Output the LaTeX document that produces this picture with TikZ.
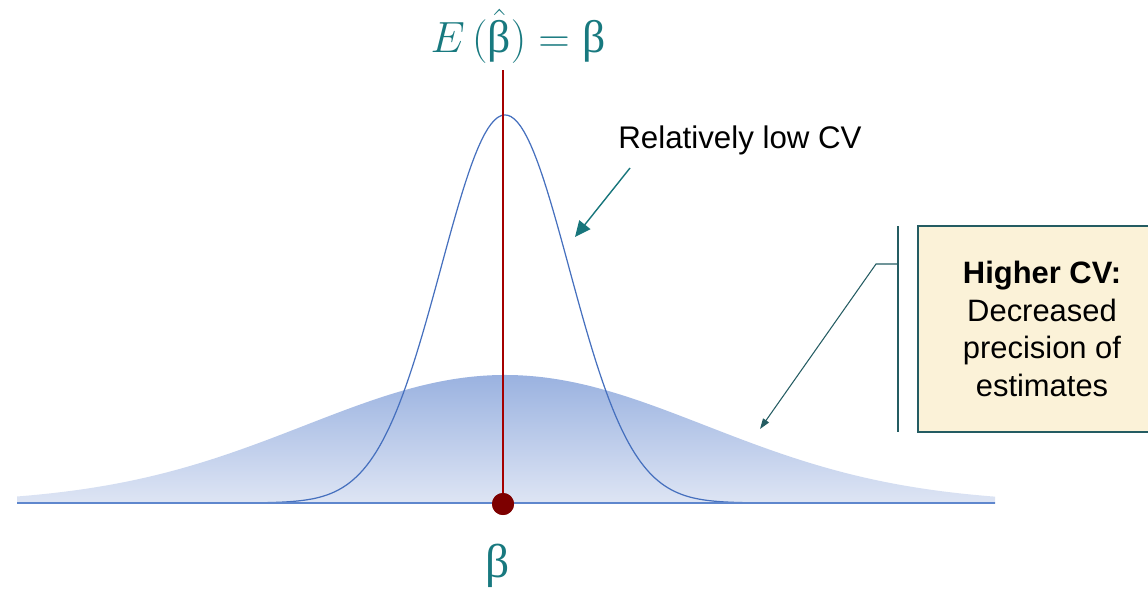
\documentclass[tikz,border=0pt]{standalone}
\usepackage{amsmath}
\usepackage{fontspec}
\newfontfamily\arialfont{Liberation Sans}
\newfontfamily\greekfont{Liberation Serif}
\usepackage{tikz}
\usetikzlibrary{arrows.meta, positioning, calc}
\definecolor{tealtext}{RGB}{24,121,127}
\definecolor{tealarrow}{RGB}{24,118,124}
\definecolor{darkteal}{RGB}{36,92,98}
\definecolor{curveblue}{RGB}{70,112,190}
\definecolor{baseblue}{RGB}{95,135,205}
\definecolor{shadetop}{RGB}{154,178,224}
\definecolor{shadebot}{RGB}{222,229,244}
\definecolor{meanred}{RGB}{165,0,0}
\definecolor{dotred}{RGB}{125,0,0}
\definecolor{boxcream}{RGB}{251,242,216}
\tikzset{
  labeltext/.style={font=\arialfont\fontsize{17.8}{21.5}\selectfont,text=black,inner sep=0pt},
  mathlabel/.style={text=tealtext,inner sep=0pt},
  notebox/.style={rectangle,draw=darkteal,fill=boxcream,line width=0.7pt,align=center,
    minimum width=4.96cm,minimum height=4.12cm,font=\arialfont\fontsize{17.6}{21.5}\selectfont},
  pointarr/.style={-{Triangle[length=9pt,width=8pt]},line width=0.8pt,color=tealarrow},
  thinarr/.style={-{Triangle[length=6pt,width=4pt]},line width=0.6pt,color=darkteal}
}
\newcommand{\ubeta}{\text{\greekfont β}}

\begin{document}
\begin{tikzpicture}[x=0.02cm,y=-0.02cm]
  \useasboundingbox (0,0) rectangle (1148,592);

  %% wide (high CV) sampling distribution
  \shade[top color=shadetop,bottom color=shadebot]
    (17,503) -- plot[domain=17:995,samples=200] (\x,{503-128*exp(-0.5*((\x-505)/200)^2)})
    -- (995,503) -- cycle;

  %% narrow (low CV) sampling distribution
  \draw[curveblue,line width=0.7pt]
    plot[domain=17:995,samples=300] (\x,{503-388*exp(-0.5*((\x-505)/64)^2)});

  %% axis
  \coordinate (axl) at (17,503);
  \coordinate (axr) at (995,503);
  \draw[baseblue,line width=1.2pt] (axl) -- (axr);

  %% true value
  \node[circle,fill=dotred,minimum size=0.44cm,inner sep=0pt] (truedot) at (503,504) {};
  \coordinate (meantop) at (503,70);
  \draw[meanred,line width=0.7pt] (meantop) -- (truedot.center);
  \fill[dotred] (truedot) circle (11);

  \node[mathlabel,font=\fontsize{26}{30}\selectfont] (expeq) at (518,36) {$E\,(\hat{\ubeta}) = \ubeta$};
  \node[mathlabel,font=\fontsize{27}{30}\selectfont] (betalab) at (498,566) {$\ubeta$};

  %% low CV label
  \node[labeltext] (lowcv) at (740,140) {Relatively low CV};
  \coordinate (lowtail) at (630,168);
  \coordinate (lowtip) at (575,237);
  \draw[pointarr] (lowtail) -- (lowtip);

  %% higher CV note
  \node[notebox] (highbox) at (1042,329)
    {\textbf{Higher CV:}\\Decreased\\precision of\\estimates};
  \coordinate (brtop) at (898,226);
  \coordinate (brbot) at (898,432);
  \coordinate (brmid) at (898,264);
  \coordinate (elbow) at (876,264);
  \coordinate (hightip) at (760,429);
  \draw[darkteal,line width=0.6pt] (brtop) -- (brbot);
  \draw[thinarr] (brmid) -- (elbow) -- (hightip);
\end{tikzpicture}
\end{document}
